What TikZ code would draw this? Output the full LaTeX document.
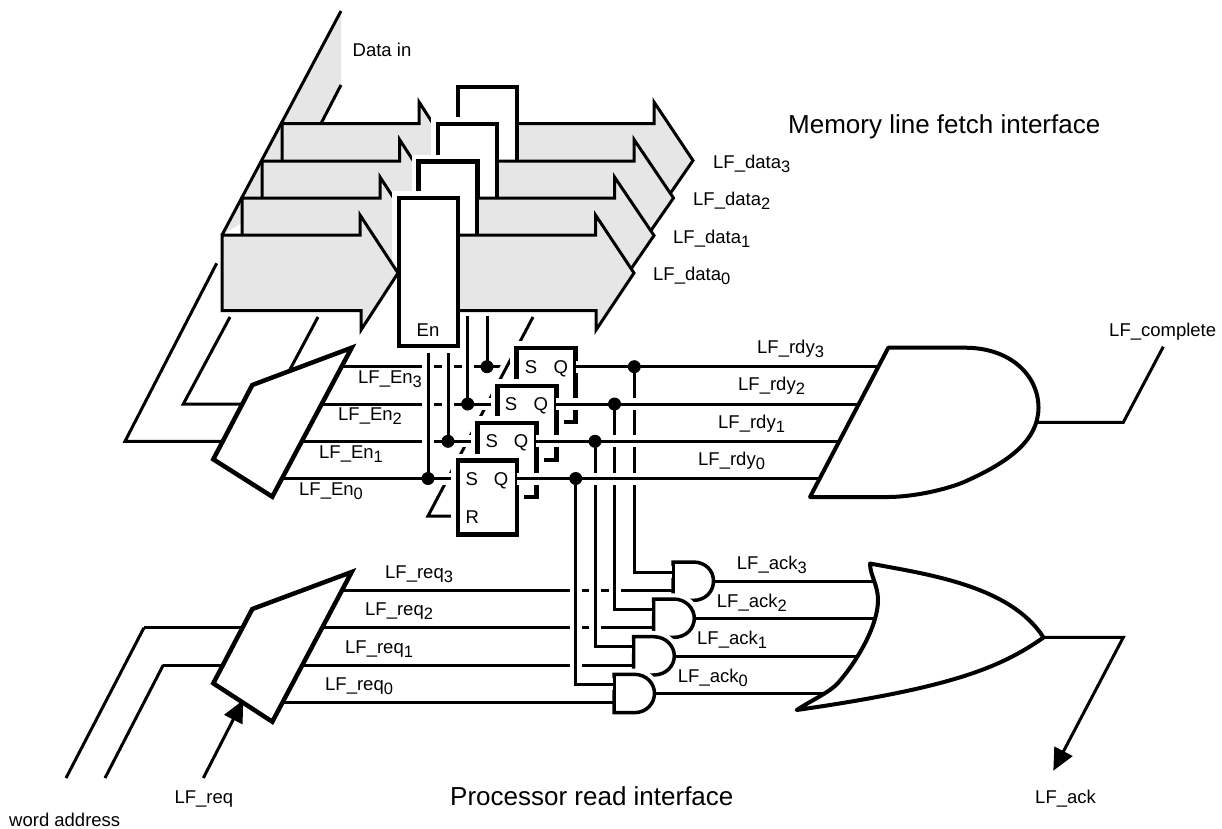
\documentclass[tikz,border=0pt]{standalone}
\usepackage{fontspec}
\setmainfont{Liberation Sans}
\usepackage{tikz}
\usetikzlibrary{arrows.meta,positioning}
\definecolor{softgray}{RGB}{230,230,230}
\newcommand{\idx}[1]{\raisebox{-4pt}{\fontsize{16.5}{16}\selectfont #1}}
\tikzset{
    regbox/.style={draw, fill=white, line width=4.5pt, inner sep=0pt, outer sep=0pt, minimum width=59pt, minimum height=148pt, preaction={draw=white, line width=14pt}},
    ffbox/.style={draw, fill=white, line width=4.5pt, inner sep=0pt, outer sep=0pt, minimum width=59pt, minimum height=74pt, preaction={draw=white, line width=14pt}},
    busarrow/.style={draw, fill=softgray, line width=3pt},
    muxbox/.style={draw, fill=white, line width=4.5pt},
    gatebox/.style={draw, fill=white, line width=3.5pt, preaction={draw=white, line width=11.5pt}},
    biggate/.style={draw, fill=white, line width=4pt, line join=round},
    wire/.style={draw, line width=3pt},
    halowire/.style={draw, line width=3pt, preaction={draw=white, line width=12pt}},
    wiredot/.style={circle, fill=black, inner sep=0pt, minimum size=13pt},
    lftext/.style={anchor=base west, inner sep=0pt},
    ffpin/.style={anchor=base, inner sep=0pt},
    titletext/.style={anchor=base west, inner sep=0pt, font=\fontsize{26}{28}\selectfont}
}
\begin{document}
\begin{tikzpicture}[x=1pt, y=-1pt, every node/.style={font=\fontsize{18.5}{20}\selectfont}]
    \useasboundingbox (0,0) rectangle (1222,828);

    \coordinate (q3) at (634.3,366.7);
    \coordinate (q2) at (614.5,404);
    \coordinate (q1) at (595,441.3);
    \coordinate (q0) at (575.7,478.5);
    \coordinate (s3) at (487,366.7);
    \coordinate (s2) at (467.7,404);
    \coordinate (s1) at (448,441.3);
    \coordinate (s0) at (428,478.5);

    \fill[softgray] (341,11) -- (341,85) -- (282,198) -- (222,235) -- cycle;
    \draw[line width=3pt] (222,235) -- (341,11);
    \draw[line width=3pt] (341,85) -- (321,123.5);

    \node[regbox] (reg3) at (487.3,161) {};
    \draw[busarrow] (282,123.5) -- (419,123.5) -- (419,102) -- (457,160.5) -- (419,217) -- (419,198) -- (282,198) -- cycle;
    \path[busarrow] (519,123.5) -- (654,123.5) -- (654,102) -- (693,160.5) -- (654,217) -- (654,198) -- (519,198);

    \node[regbox] (reg2) at (467.5,198) {};
    \draw[busarrow] (262,161) -- (399.5,161) -- (399.5,139.5) -- (437.5,198) -- (399.5,255) -- (399.5,236) -- (262,236) -- cycle;
    \path[busarrow] (499,161) -- (634,161) -- (634,139.5) -- (673.5,198) -- (634,255) -- (634,236) -- (499,236);

    \node[regbox] (reg1) at (448,235.5) {};
    \draw[busarrow] (242,198) -- (380,198) -- (380,177) -- (418,235.5) -- (380,293) -- (380,273) -- (242,273) -- cycle;
    \path[busarrow] (479,198) -- (614.5,198) -- (614.5,177) -- (654,235.5) -- (614.5,293) -- (614.5,273) -- (479,273);

    \node[regbox] (reg0) at (428.5,272) {};
    \draw[busarrow] (222,235) -- (360,235) -- (360,215) -- (398,273) -- (361,330) -- (361,310.5) -- (222,310.5) -- cycle;
    \path[busarrow] (460,235) -- (595.5,235) -- (595.5,215) -- (634,273) -- (596,330) -- (596,310.5) -- (460,310.5);
    \node[ffpin] (entext) at (428,336.5) {En};

    \coordinate (busa) at (230,317);
    \coordinate (busb) at (216.7,263.3);
    \coordinate (busc) at (318,317);
    \coordinate (rtop) at (533,317);
    \coordinate (rturn) at (428,516);

    \draw[wire] (busc) -- (289.7,370);
    \draw[wire] (335,366.7) -- (s3) -- (530,366.7);
    \draw[wire] (busa) -- (183.3,404) -- (260,404);
    \draw[wire] (busb) -- (125,441.3) -- (260,441.3);
    \draw[halowire] (rtop) -- (rturn) -- (458,516);
    \draw[halowire] (260,404) -- (s2) -- (510,404);
    \draw[halowire] (260,441.3) -- (s1) -- (490,441.3);
    \draw[halowire] (260,478.5) -- (s0) -- (470,478.5);

    \draw[halowire] (428,353) -- (s0);
    \draw[halowire] (448,353) -- (s1);
    \draw[halowire] (467.7,316) -- (s2);
    \draw[wire] (487,316) -- (s3);

    \draw[gatebox] (673,562) -- (693,562) .. controls (706,562) and (713.5,571) .. (713.5,581) .. controls (713.5,591) and (706,600.4) .. (693,600.4) -- (673,600.4) -- cycle;
    \draw[gatebox] (653.5,599) -- (673.5,599) .. controls (686.5,599) and (694.3,609) .. (694.3,618.3) .. controls (694.3,628) and (686.5,637.4) .. (673.5,637.4) -- (653.5,637.4) -- cycle;
    \draw[gatebox] (633.5,636.7) -- (653.5,636.7) .. controls (666.5,636.7) and (674.3,646.5) .. (674.3,656) .. controls (674.3,665.5) and (666.5,675) .. (653.5,675) -- (633.5,675) -- cycle;
    \draw[gatebox] (614,674.3) -- (634,674.3) .. controls (647,674.3) and (654.5,684) .. (654.5,693.3) .. controls (654.5,703) and (647,712.7) .. (634,712.7) -- (614,712.7) -- cycle;

    \draw[wire] (144,627.7) -- (66,778);
    \draw[wire] (163.3,665) -- (105,778);
    \draw[wire] (340,590.7) -- (672,590.7);
    \draw[wire] (144,627.7) -- (652,627.7);
    \draw[wire] (163.3,665) -- (632,665);
    \draw[wire] (260,702.3) -- (613,702.3);

    \draw[halowire] (q3) -- (634.3,572.3) -- (671.5,572.3);
    \draw[halowire] (q2) -- (614.5,609.3) -- (652,609.3);
    \draw[halowire] (q1) -- (595,646.7) -- (632,646.7);
    \draw[halowire] (q0) -- (575.7,684) -- (612.5,684);

    \node[ffbox] (ff3) at (546,385) {};
    \draw[halowire] (576,366.7) -- (q3) -- (880,366.7);
    \node[ffbox] (ff2) at (527,423) {};
    \draw[halowire] (556,404) -- (q2) -- (860,404);
    \node[ffbox] (ff1) at (507,460) {};
    \draw[halowire] (536,441.3) -- (q1) -- (840,441.3);
    \node[ffbox] (ff0) at (487.3,497.5) {};
    \draw[halowire] (517,478.5) -- (q0) -- (820,478.5);

    \node[ffpin] (s3text) at (531,373.8) {S};
    \node[ffpin] (q3text) at (560.7,373.8) {Q};
    \node[ffpin] (s2text) at (511,410.8) {S};
    \node[ffpin] (q2text) at (540.7,410.8) {Q};
    \node[ffpin] (s1text) at (491.7,447.8) {S};
    \node[ffpin] (q1text) at (521,447.8) {Q};
    \node[ffpin] (s0text) at (471.7,485.8) {S};
    \node[ffpin] (q0text) at (501,485.8) {Q};
    \node[ffpin] (r0text) at (472.3,523.2) {R};

    \node[wiredot] (s3dot) at (s3) {};
    \node[wiredot] (s2dot) at (s2) {};
    \node[wiredot] (s1dot) at (s1) {};
    \node[wiredot] (s0dot) at (s0) {};
    \node[wiredot] (q3dot) at (q3) {};
    \node[wiredot] (q2dot) at (q2) {};
    \node[wiredot] (q1dot) at (q1) {};
    \node[wiredot] (q0dot) at (q0) {};

    \draw[muxbox] (351.7,347.7) -- (252.3,385) -- (213.3,459.3) -- (272.3,496.7) -- cycle;
    \draw[muxbox] (351.7,572) -- (252.3,609) -- (213.3,683.3) -- (272.3,721.7) -- cycle;
    \draw[-{Triangle[length=22pt,width=20pt]}, wire] (203.3,778) -- (243.3,700);

    \draw[wire] (713.5,581.7) -- (880,581.7);
    \draw[wire] (694.3,618.3) -- (880,618.3);
    \draw[wire] (674.3,656) -- (865,656);
    \draw[wire] (654.5,693.3) -- (835,693.3);

    \draw[biggate] (888.3,347.7) -- (965,347.7) .. controls (1010,347.7) and (1038.5,375) .. (1038.5,408) .. controls (1038,440) and (1010,462) .. (961.7,483) .. controls (935,493) and (905,497) .. (888,497) -- (810,497) -- cycle;
    \draw[biggate] (870,563.5) .. controls (925,574) and (1010,585) .. (1043.5,637.5) .. controls (1000,668) and (950,688) .. (796.7,710) .. controls (812,700) and (830,692) .. (838,683) .. controls (858,660) and (878,625) .. (878,600) .. controls (878,585) and (870,575) .. (870,563.5) -- cycle;

    \draw[wire] (1037,422.3) -- (1123.3,422.3) -- (1163.3,346.7);
    \draw[-{Triangle[length=22pt,width=20pt]}, wire] (1043.5,637.3) -- (1123.3,637.3) -- (1053.3,770.7);

    \node[lftext] (datain) at (352.5,56.5) {Data in};
    \node[titletext] (memtitle) at (788,133) {Memory line fetch interface};
    \node[titletext] (proctitle) at (450,805) {Processor read interface};
    \node[lftext] (data3) at (713,168) {LF\_data\idx{3}};
    \node[lftext] (data2) at (693,205.5) {LF\_data\idx{2}};
    \node[lftext] (data1) at (673,243) {LF\_data\idx{1}};
    \node[lftext] (data0) at (653,280.5) {LF\_data\idx{0}};
    \node[lftext] (en3) at (358,383) {LF\_En\idx{3}};
    \node[lftext] (en2) at (338,420.5) {LF\_En\idx{2}};
    \node[lftext] (en1) at (319,458) {LF\_En\idx{1}};
    \node[lftext] (en0) at (299,495.5) {LF\_En\idx{0}};
    \node[lftext] (rdy3) at (757,353) {LF\_rdy\idx{3}};
    \node[lftext] (rdy2) at (738,390.5) {LF\_rdy\idx{2}};
    \node[lftext] (rdy1) at (718,428) {LF\_rdy\idx{1}};
    \node[lftext] (rdy0) at (698,465.5) {LF\_rdy\idx{0}};
    \node[lftext] (req3) at (385,578) {LF\_req\idx{3}};
    \node[lftext] (req2) at (365,615.5) {LF\_req\idx{2}};
    \node[lftext] (req1) at (345,653) {LF\_req\idx{1}};
    \node[lftext] (req0) at (325,690.5) {LF\_req\idx{0}};
    \node[lftext] (ack3) at (736.7,569.5) {LF\_ack\idx{3}};
    \node[lftext] (ack2) at (716.7,607) {LF\_ack\idx{2}};
    \node[lftext] (ack1) at (697,644.5) {LF\_ack\idx{1}};
    \node[lftext] (ack0) at (677.7,682) {LF\_ack\idx{0}};
    \node[lftext] (complete) at (1109,336) {LF\_complete};
    \node[lftext] (reqtext) at (174.3,803) {LF\_req};
    \node[lftext] (acktext) at (1035,803) {LF\_ack};
    \node[lftext] (wordaddr) at (9,826) {word address};
\end{tikzpicture}
\end{document}
